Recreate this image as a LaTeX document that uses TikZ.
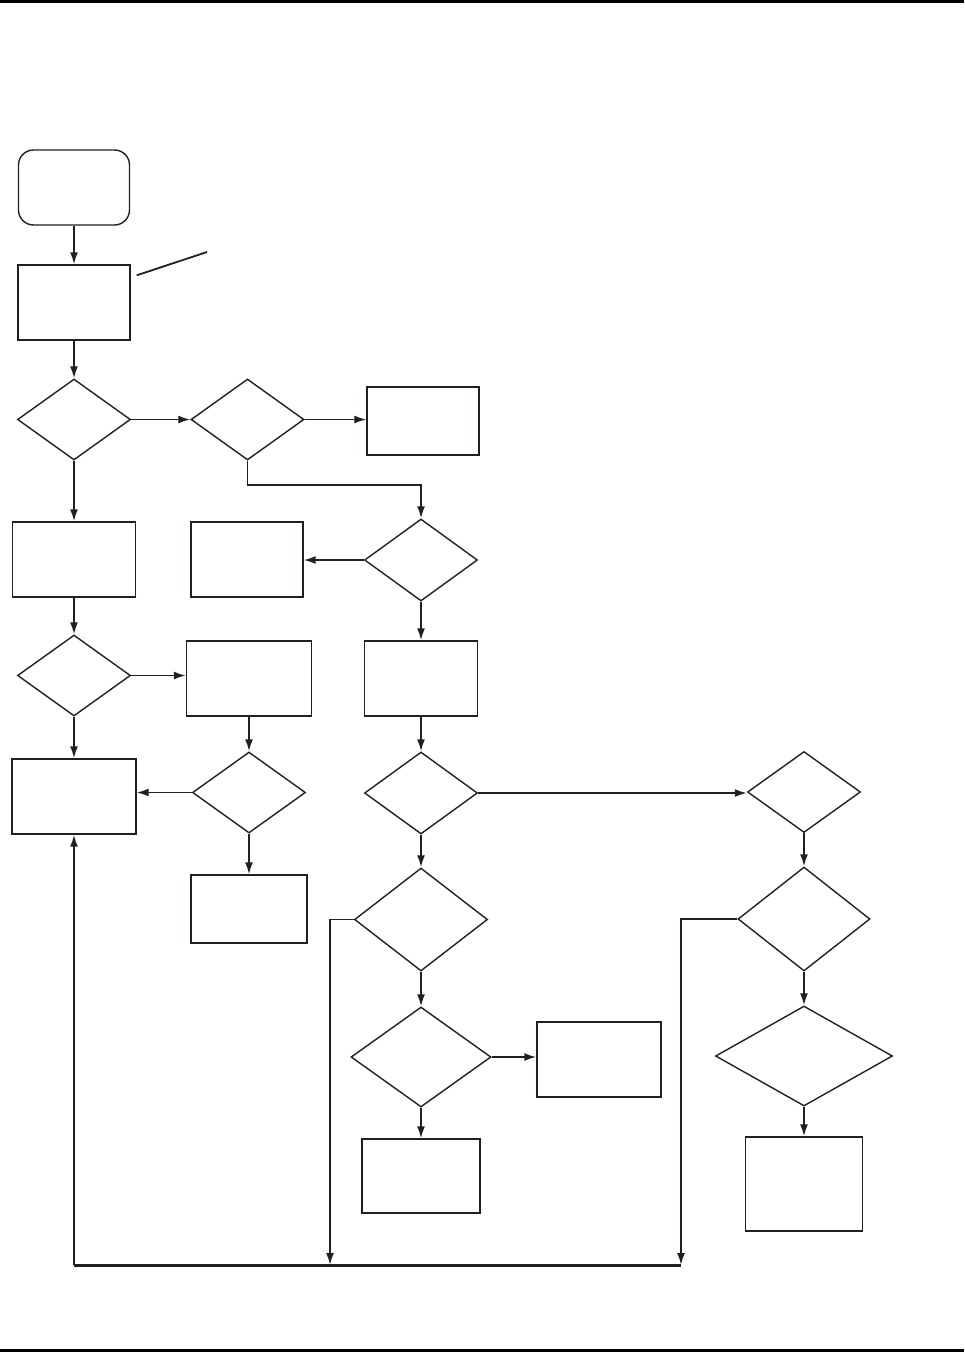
\documentclass[tikz,border=0pt]{standalone}
\usepackage{tikz}
\usepackage{xcolor}
\usetikzlibrary{arrows.meta,shapes.geometric}
\definecolor{ink}{HTML}{231F20}

\begin{document}
\begin{tikzpicture}[
          x=1pt, y=-1pt,
          box/.style={draw=ink, line width=1.4pt, inner sep=0pt, minimum width=112pt, minimum height=75pt},
          dia/.style={draw=ink, line width=1.4pt, diamond, inner sep=0pt, minimum width=113pt, minimum height=81pt},
          arr/.style={-{Latex[length=12pt, width=8pt]}, line width=1.8pt, draw=ink},
          rule/.style={line width=3pt, draw=black}
      ]
        \useasboundingbox (0,0) rectangle (964,1352);
        \draw[rule] (0,1.5) -- (964,1.5);
        \draw[rule] (0,1350.5) -- (964,1350.5);

        % left column
        \node[box, rounded corners=15pt, minimum width=111pt] (start) at (74,187.5) {};
        \node[box] (prep) at (74,302.5) {};
        \node[dia] (q1) at (74,419.5) {};
        \node[box, minimum width=123pt] (fix1) at (74,559.5) {};
        \node[dia] (q4) at (74,675.5) {};
        \node[box, minimum width=124pt] (retry) at (74,796.5) {};

        % second column
        \node[dia] (q2) at (247.5,419.5) {};
        \node[box] (fix2) at (247,559.5) {};
        \node[box, minimum width=125pt] (fix3) at (249,678.5) {};
        \node[dia] (q5) at (249,792.5) {};
        \node[box, minimum width=116pt, minimum height=68pt] (fix4) at (249,909) {};

        % third column
        \node[box, minimum height=68pt] (done) at (423,421) {};
        \node[dia, minimum height=82pt] (q3) at (421,560) {};
        \node[box, minimum width=113pt] (fix5) at (421,678.5) {};
        \node[dia, minimum height=82pt] (q6) at (421,793) {};
        \node[dia, minimum width=133pt, minimum height=103pt] (q8) at (421,919.5) {};
        \node[dia, minimum width=140pt, minimum height=100pt] (q9) at (421,1057) {};
        \node[box, minimum width=118pt, minimum height=74pt] (fix6) at (421,1176) {};
        \node[box, minimum width=124pt] (fix7) at (599,1059.5) {};

        % right column
        \node[dia] (q7) at (804,792) {};
        \node[dia, minimum width=132pt, minimum height=104pt] (q10) at (804,919) {};
        \node[dia, minimum width=177pt, minimum height=100pt] (q11) at (804,1056) {};
        \node[box, minimum width=117pt, minimum height=94pt] (fix8) at (804,1184) {};

        \coordinate (note) at (207,252);
        \coordinate (back) at (74,1265);
        \coordinate (loopA) at (330,1265);
        \coordinate (loopB) at (681,1265);

        \draw[line width=1.8pt, draw=ink] ([shift={(6,11)}]prep.north east) -- (note);

        \draw[arr] (start) -- (prep);
        \draw[arr] (prep) -- (q1);
        \draw[arr] (q1) -- (q2);
        \draw[arr] (q2.east) -- (q2.east -| done.west);
        \draw[arr] (q2.south) -- ++(0,24) -| (q3.north);
        \draw[arr] (q3.west) -- (q3.west -| fix2.east);
        \draw[arr] (q1) -- (fix1);
        \draw[arr] (fix1) -- (q4);
        \draw[arr] (q4.east) -- (q4.east -| fix3.west);
        \draw[arr] (q4) -- (retry);
        \draw[arr] (fix3) -- (q5);
        \draw[arr] (q5.west) -- (q5.west -| retry.east);
        \draw[arr] (q5) -- (fix4);
        \draw[arr] (q3) -- (fix5);
        \draw[arr] (fix5) -- (q6);
        \draw[arr] (q6.east) -- (q6.east -| q7.west);
        \draw[arr] (q6) -- (q8);
        \draw[arr] (q8) -- (q9);
        \draw[arr] (q9.east) -- (q9.east -| fix7.west);
        \draw[arr] (q9) -- (fix6);
        \draw[arr] (q7) -- (q10);
        \draw[arr] (q10) -- (q11);
        \draw[arr] (q11) -- (fix8);

        \draw[arr] (q8.west) -| (loopA);
        \draw[arr] (q10.west) -| (loopB);
        \draw[line width=3pt, draw=ink] (back) -- (loopB);
        \draw[arr] (back) -- (retry);
      \end{tikzpicture}
\end{document}
